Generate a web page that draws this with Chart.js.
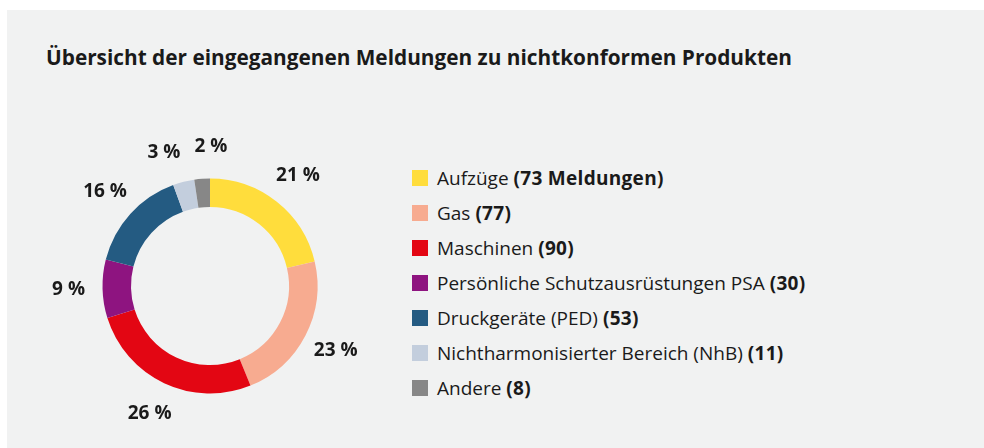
<!DOCTYPE html>
<html lang="de">
<head>
<meta charset="utf-8">
<title>Meldungen zu nichtkonformen Produkten</title>
<script src="https://cdn.jsdelivr.net/npm/chart.js@4.4.1/dist/chart.umd.min.js"></script>
<style>
    html, body {
        margin: 0;
        padding: 0;
        width: 984px;
        height: 448px;
        background: #ffffff;
        overflow: hidden;
        font-family: "Open Sans", "Noto Sans", sans-serif;
        color: #1a1a1a;
    }
    .panel {
        position: absolute;
        left: 7px;
        top: 10px;
        right: 0;
        bottom: 0;
        background: #f1f2f2;
    }
    .title {
        position: absolute;
        left: 46px;
        top: 42px;
        margin: 0;
        font-size: 20.8px;
        font-weight: 700;
        line-height: 30px;
        white-space: nowrap;
    }
    .chart-box {
        position: absolute;
        left: 30px;
        top: 106px;
        width: 360px;
        height: 360px;
    }
    .legend {
        position: absolute;
        left: 412px;
        top: 161px;
        margin: 0;
        padding: 0;
        list-style: none;
        font-size: 19px;
    }
    .legend li {
        height: 35px;
        line-height: 35px;
        white-space: nowrap;
    }
    .legend .box {
        display: inline-block;
        width: 16px;
        height: 16px;
        margin-right: 9px;
        vertical-align: -1px;
    }
    .legend b {
        font-weight: 700;
        letter-spacing: 0.3px;
    }
</style>
</head>
<body>
<div class="panel"></div>
<h1 class="title">Übersicht der eingegangenen Meldungen zu nichtkonformen Produkten</h1>
<div class="chart-box"><canvas id="donutChart"></canvas></div>
<ul class="legend" id="legend"></ul>

<script>
// Data
const categories = [
    'Aufzüge',
    'Gas',
    'Maschinen',
    'Persönliche Schutzausrüstungen PSA',
    'Druckgeräte (PED)',
    'Nichtharmonisierter Bereich (NhB)',
    'Andere'
];
const counts = [73, 77, 90, 30, 53, 11, 8];
const countLabels = ['(73 Meldungen)', '(77)', '(90)', '(30)', '(53)', '(11)', '(8)'];
// percentages as printed in the report
const percentLabels = ['21 %', '23 %', '26 %', '9 %', '16 %', '3 %', '2 %'];
const colors = ['#ffdd3c', '#f7ab90', '#e30613', '#8e1480', '#245b82', '#c3cedd', '#878787'];

// Percent labels outside the ring
const outsideLabels = {
    id: 'outsideLabels',
    afterDatasetsDraw(chart) {
        const ctx = chart.ctx;
        const arcs = chart.getDatasetMeta(0).data;
        ctx.save();
        ctx.font = 'bold 19px "Open Sans", sans-serif';
        ctx.fillStyle = '#1a1a1a';
        ctx.textAlign = 'center';
        ctx.textBaseline = 'middle';

        const items = arcs.map((arc, i) => {
            const p = arc.getProps(['x', 'y', 'startAngle', 'endAngle', 'outerRadius'], true);
            const mid = (p.startAngle + p.endAngle) / 2;
            const r = p.outerRadius + 34;
            return {
                text: percentLabels[i],
                x: p.x + Math.cos(mid) * r,
                y: p.y + Math.sin(mid) * r,
                w: ctx.measureText(percentLabels[i]).width
            };
        });

        // push neighbouring labels apart when they collide
        for (let i = 0; i < items.length; i++) {
            const a = items[i];
            const b = items[(i + 1) % items.length];
            if (Math.abs(a.y - b.y) > 18) continue;
            const need = (a.w + b.w) / 2 + 14;
            const gap = Math.abs(b.x - a.x);
            if (gap < need) {
                const shift = (need - gap) / 2;
                if (a.x < b.x) { a.x -= shift; b.x += shift; }
                else { a.x += shift; b.x -= shift; }
                a.y += 4;
                b.y += 2;
            }
        }

        items.forEach(it => ctx.fillText(it.text, it.x, it.y));
        ctx.restore();
    }
};

function initDonutChart() {
    const ctx = document.getElementById('donutChart');

    new Chart(ctx, {
        type: 'doughnut',
        data: {
            labels: categories,
            datasets: [{
                data: counts,
                backgroundColor: colors,
                borderWidth: 0
            }]
        },
        options: {
            responsive: true,
            maintainAspectRatio: false,
            animation: false,
            radius: 107.5,
            cutout: '73.5%',
            plugins: {
                legend: { display: false },
                tooltip: { enabled: false }
            }
        },
        plugins: [outsideLabels]
    });
}

// Legend built from the same arrays
function buildLegend() {
    const list = document.getElementById('legend');
    categories.forEach((name, i) => {
        const li = document.createElement('li');
        const box = document.createElement('span');
        box.className = 'box';
        box.style.background = colors[i];
        li.appendChild(box);
        li.appendChild(document.createTextNode(name + ' '));
        const b = document.createElement('b');
        b.textContent = countLabels[i];
        li.appendChild(b);
        list.appendChild(li);
    });
}

initDonutChart();
buildLegend();
</script>
</body>
</html>
